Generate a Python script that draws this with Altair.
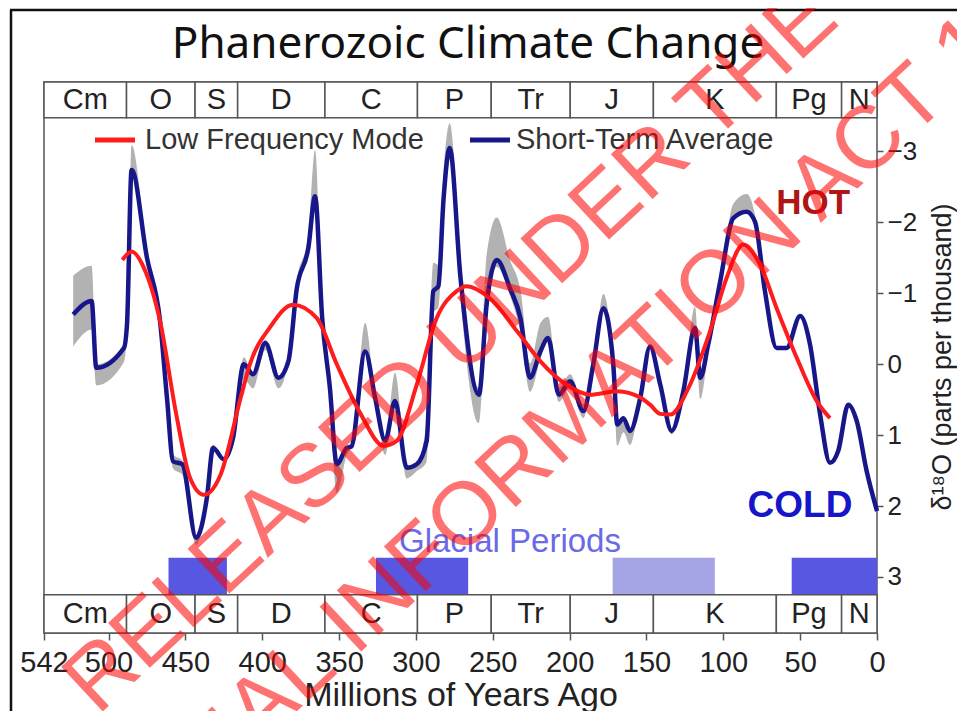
import altair as alt
import pandas as pd

# ---------------- data ----------------
# Short-Term Average (blue), age in Myr ago, d18O in per mil
blue_age = [523, 511, 508, 490, 488, 485, 475, 466.5, 462, 458, 452, 443, 436, 432, 425, 419,
            412, 406, 398, 389.5, 383, 377.5, 370, 365.6, 361, 356, 351.5, 345, 342, 333,
            326.6, 320, 313.6, 306, 299.5, 293, 288.7, 285.4, 282, 278, 271, 259, 254, 247.4,
            238.8, 232, 225.8, 219, 214, 207, 199.7, 191, 184.6, 178, 171.6, 169, 165, 160.7,
            154, 147.7, 141, 133.6, 126, 118.4, 115, 109.8, 102, 93.5, 84.8, 79.4, 72.9, 65.3,
            58.8, 50, 43.6, 37, 30.6, 25.2, 18.7, 13.2, 6.7, 0]
blue_d18o = [-0.70, -0.89, 0.05, -0.23, -0.56, -2.74, -1.50, -0.61, 0.47, 1.37, 1.41, 2.45, 1.88,
             1.18, 1.34, 1.04, 0.00, 0.14, -0.30, 0.19, -0.04, -1.07, -1.64, -2.37, -0.65, 0.33,
             1.41, 1.18, 1.16, -0.18, 0.47, 1.08, 0.52, 1.46, 1.41, 1.08, -1.03, -1.10, -2.34,
             -3.05, -1.22, 0.43, -0.84, -1.47, -1.07, -0.65, 0.19, -0.18, -0.37, 0.43, 0.24, 0.66,
             0.00, -0.79, 0.00, 0.85, 0.76, 0.94, 0.47, -0.25, 0.29, 0.94, 0.38, -0.51, 0.19,
             -0.28, -1.17, -2.06, -2.15, -2.01, -1.03, -0.23, -0.23, -0.68, -0.28, 0.71, 1.39,
             1.22, 0.57, 0.80, 1.51, 2.07]
# grey uncertainty envelope: extension above (warmer) and below (colder) the blue curve
band_up = [0.55, 0.50, 0.05, 0.05, 0.10, 0.35, 0.10, 0.00, 0.00, 0.10, 0.05, 0.00, 0.00, 0.05,
           0.00, 0.00, 0.10, 0.00, 0.05, 0.00, 0.00, 0.10, 0.20, 0.65, 0.10, 0.00, 0.00, 0.00,
           0.00, 0.40, 0.00, 0.00, 0.40, 0.00, 0.00, 0.30, 0.40, 0.30, 0.40, 0.35, 0.30, 0.10,
           0.70, 0.60, 0.40, 0.40, 0.20, 0.40, 0.30, 0.10, 0.10, 0.10, 0.00, 0.20, 0.00, 0.00,
           0.00, 0.00, 0.00, 0.00, 0.00, 0.00, 0.00, 0.30, 0.00, 0.10, 0.00, 0.20, 0.25, 0.10,
           0.00, 0.00, 0.00, 0.00, 0.00, 0.00, 0.00, 0.00, 0.00, 0.00, 0.00, 0.00]
band_down = [0.45, 0.40, 0.25, 0.20, 0.10, 0.00, 0.00, 0.00, 0.00, 0.10, 0.15, 0.10, 0.00, 0.00,
             0.00, 0.00, 0.20, 0.20, 0.10, 0.15, 0.00, 0.00, 0.00, 0.00, 0.10, 0.10, 0.40, 0.10,
             0.00, 0.00, 0.00, 0.20, 0.00, 0.15, 0.10, 0.30, 0.30, 0.30, 0.20, 0.10, 0.30, 0.40,
             0.10, 0.10, 0.10, 0.20, 0.20, 0.10, 0.00, 0.10, 0.10, 0.10, 0.00, 0.00, 0.10, 0.30,
             0.20, 0.20, 0.00, 0.00, 0.00, 0.05, 0.00, 0.00, 0.30, 0.10, 0.00, 0.00, 0.00, 0.00,
             0.00, 0.00, 0.00, 0.00, 0.00, 0.00, 0.00, 0.00, 0.00, 0.00, 0.00, 0.00]

# Low Frequency Mode (red)
red_age = [491, 485, 477, 466.5, 456, 447, 438, 427, 414, 408, 395, 380, 364.5, 351.5, 336, 321,
           312.5, 299.5, 286.5, 273.5, 267, 252, 234, 219, 202, 186.7, 169, 154, 147.7, 141,
           134.7, 121.7, 108.7, 97.8, 87, 76, 65.3, 52.2, 39.2, 30.6]
red_d18o = [-1.47, -1.59, -1.36, -0.61, 0.70, 1.60, 1.84, 1.55, 0.47, 0.00, -0.52, -0.84, -0.65,
            0.00, 0.70, 1.15, 1.08, 0.29, -0.65, -1.03, -1.10, -0.93, -0.46, -0.04, 0.29, 0.43,
            0.38, 0.47, 0.57, 0.70, 0.71, 0.29, -0.46, -1.22, -1.69, -1.40, -0.79, -0.09, 0.52,
            0.76]

# geological periods
period_names = ["Cm", "O", "S", "D", "C", "P", "Tr", "J", "K", "Pg", "N"]
period_start = [542, 488.3, 443.7, 416, 359.2, 299, 251, 199.6, 145.5, 65.5, 23.03]
period_end = [488.3, 443.7, 416, 359.2, 299, 251, 199.6, 145.5, 65.5, 23.03, 0]

# glacial periods
glacial_start = [461, 326, 172, 55.5]
glacial_end = [423, 266, 105.5, 0]
glacial_kind = ["major", "major", "minor", "major"]

x_tick_values = [542, 500, 450, 400, 350, 300, 250, 200, 150, 100, 50, 0]
y_tick_values = [-3, -2, -1, 0, 1, 2, 3]

legend_names = ["Low Frequency Mode", "Short-Term Average"]
watermark_lines = ["RELEASED UNDER THE", "OFFICIAL INFORMATION ACT 1982"]

# ---------------- tables ----------------
blue = pd.DataFrame({"age": blue_age, "d18o": blue_d18o, "up": band_up, "down": band_down})
blue["lo"] = blue["d18o"] - blue["up"]
blue["hi"] = blue["d18o"] + blue["down"]
red = pd.DataFrame({"age": red_age, "d18o": red_d18o})
periods = pd.DataFrame({"name": period_names, "start": period_start, "end": period_end})
periods["mid"] = (periods["start"] + periods["end"]) / 2
glacial = pd.DataFrame({"start": glacial_start, "end": glacial_end, "kind": glacial_kind})
one = pd.DataFrame({"k": [0]})

XS = alt.Scale(domain=[0, 542], reverse=True, nice=False, zero=False)
YS = alt.Scale(domain=[-3.98, 3.79], reverse=True, nice=False, zero=False)

NARROW = "Liberation Sans Narrow, Arial Narrow, Liberation Sans, sans-serif"
SANS = "Liberation Sans, Arial, sans-serif"

BLUE = "#17178a"
RED = "#ff1c1c"

XAXIS = alt.Axis(values=x_tick_values, format="d", tickSize=7, tickColor="#555",
                 tickWidth=1.5, labelFont=NARROW, labelFontSize=29,
                 labelColor="#222", labelPadding=8, labelFlush=False,
                 labelOverlap=False, title="Millions of Years Ago",
                 titleFont=SANS, titleFontSize=34, titleFontWeight="normal",
                 titleColor="#222", titlePadding=1, domain=False, grid=False)
YAXIS = alt.Axis(orient="right", values=y_tick_values, tickSize=6, tickColor="#555",
                 tickWidth=1.5, labelFont=NARROW, labelFontSize=26,
                 labelColor="#222", labelPadding=4, labelAlign="left",
                 labelBaseline="middle", title=None, domain=False, grid=False)


def xq(field):
    return alt.X(field, type="quantitative", scale=XS, axis=XAXIS)


def yq(field):
    return alt.Y(field, type="quantitative", scale=YS, axis=YAXIS)


def xd(v):
    return alt.X(datum=v, type="quantitative", scale=XS, axis=XAXIS)


def yd(v):
    return alt.Y(datum=v, type="quantitative", scale=YS, axis=YAXIS)


band = alt.Chart(blue).mark_area(color="#b2b2b2", interpolate="monotone").encode(
    x=xq("age"), y=yq("lo"), y2="hi:Q")

blue_line = alt.Chart(blue).mark_line(color=BLUE, strokeWidth=4.5, interpolate="monotone").encode(
    x=xq("age"), y=yq("d18o"))

red_line = alt.Chart(red).mark_line(color=RED, strokeWidth=4, interpolate="monotone").encode(
    x=xq("age"), y=yq("d18o"))

glacial_rects = alt.Chart(glacial).mark_rect().encode(
    x=xq("start"), x2="end:Q", y=yd(2.73), y2=alt.Y2(datum=3.25),
    color=alt.Color("kind:N", scale=alt.Scale(domain=["major", "minor"],
                                              range=["#5757e2", "#a5a5e6"]), legend=None),
)

top_boxes = alt.Chart(periods).mark_rect(fill="white", stroke="#555", strokeWidth=1.5).encode(
    x=xq("start"), x2="end:Q", y=yd(-3.98), y2=alt.Y2(datum=-3.475))
bottom_boxes = alt.Chart(periods).mark_rect(fill="white", stroke="#555", strokeWidth=1.5).encode(
    x=xq("start"), x2="end:Q", y=yd(3.25), y2=alt.Y2(datum=3.79))

top_labels = alt.Chart(periods).mark_text(font=NARROW, fontSize=29, color="#222",
                                          baseline="middle").encode(
    x=xq("mid"), y=yd(-3.73), text="name:N")
bottom_labels = alt.Chart(periods).mark_text(font=NARROW, fontSize=29, color="#222",
                                             baseline="middle").encode(
    x=xq("mid"), y=yd(3.52), text="name:N")

hot = alt.Chart(one).mark_text(text="HOT", font=SANS, fontSize=35, fontWeight="bold",
                               color="#b01515", baseline="middle").encode(
    x=xd(41.6), y=yd(-2.28))
cold = alt.Chart(one).mark_text(text="COLD", font=SANS, fontSize=37, fontWeight="bold",
                                color="#1616c8", baseline="middle").encode(
    x=xd(50.1), y=yd(2.0))
glacial_label = alt.Chart(one).mark_text(text="Glacial Periods", font=SANS, fontSize=33,
                                         color="#6a6ae6", baseline="middle").encode(
    x=xd(238.8), y=yd(2.5))

# manual legend
leg_red = alt.Chart(one).mark_rule(color=RED, strokeWidth=5).encode(
    x=alt.value(51), x2=alt.value(91), y=alt.value(58))
leg_red_t = alt.Chart(one).mark_text(text=legend_names[0], font=SANS, fontSize=29,
                                     color="#333", align="left", baseline="middle").encode(
    x=alt.value(101), y=alt.value(58))
leg_blue = alt.Chart(one).mark_rule(color=BLUE, strokeWidth=5).encode(
    x=alt.value(426), x2=alt.value(466), y=alt.value(58))
leg_blue_t = alt.Chart(one).mark_text(text=legend_names[1], font=SANS, fontSize=29,
                                      color="#333", align="left", baseline="middle").encode(
    x=alt.value(472), y=alt.value(58))

title = alt.Chart(one).mark_text(text="Phanerozoic Climate Change", font="Noto Sans",
                                 fontSize=44, color="#111", align="center",
                                 baseline="alphabetic").encode(
    x=alt.value(424), y=alt.value(-24))
ytitle = alt.Chart(one).mark_text(text="δ¹⁸O (parts per thousand)", font=SANS, fontSize=27,
                                  color="#222", angle=270, align="center",
                                  baseline="middle").encode(
    x=alt.value(899), y=alt.value(275))

frame_top = alt.Chart(one).mark_rule(color="#111", strokeWidth=2.5).encode(
    x=alt.value(-34), x2=alt.value(930), y=alt.value(-72))
frame_left = alt.Chart(one).mark_rule(color="#111", strokeWidth=2.5).encode(
    x=alt.value(-33), y=alt.value(-72), y2=alt.value(700))

wm1 = alt.Chart(one).mark_text(text=watermark_lines[0], font=SANS, fontSize=89,
                               color="#ff0000", opacity=0.55, angle=317,
                               align="center", baseline="middle").encode(
    x=alt.value(407), y=alt.value(268))
wm2 = alt.Chart(one).mark_text(text=watermark_lines[1], font=SANS, fontSize=89,
                               color="#ff0000", opacity=0.55, angle=317,
                               align="center", baseline="middle").encode(
    x=alt.value(517), y=alt.value(346))

chart = alt.layer(
    band, blue_line, red_line, glacial_rects, top_boxes, bottom_boxes, top_labels,
    bottom_labels, hot, cold, glacial_label, leg_red, leg_red_t, leg_blue, leg_blue_t,
    title, ytitle, frame_top, frame_left, wm1, wm2,
).properties(
    width=833, height=551,
    padding={"left": 36, "top": 74, "right": 80, "bottom": 78},
    autosize=alt.AutoSizeParams(type="none"),
    background="white",
).configure_view(stroke="#555", strokeWidth=1.5).configure_axis(grid=False, domain=False)

chart.save("out.html", embed_options={"renderer": "svg", "actions": False})
